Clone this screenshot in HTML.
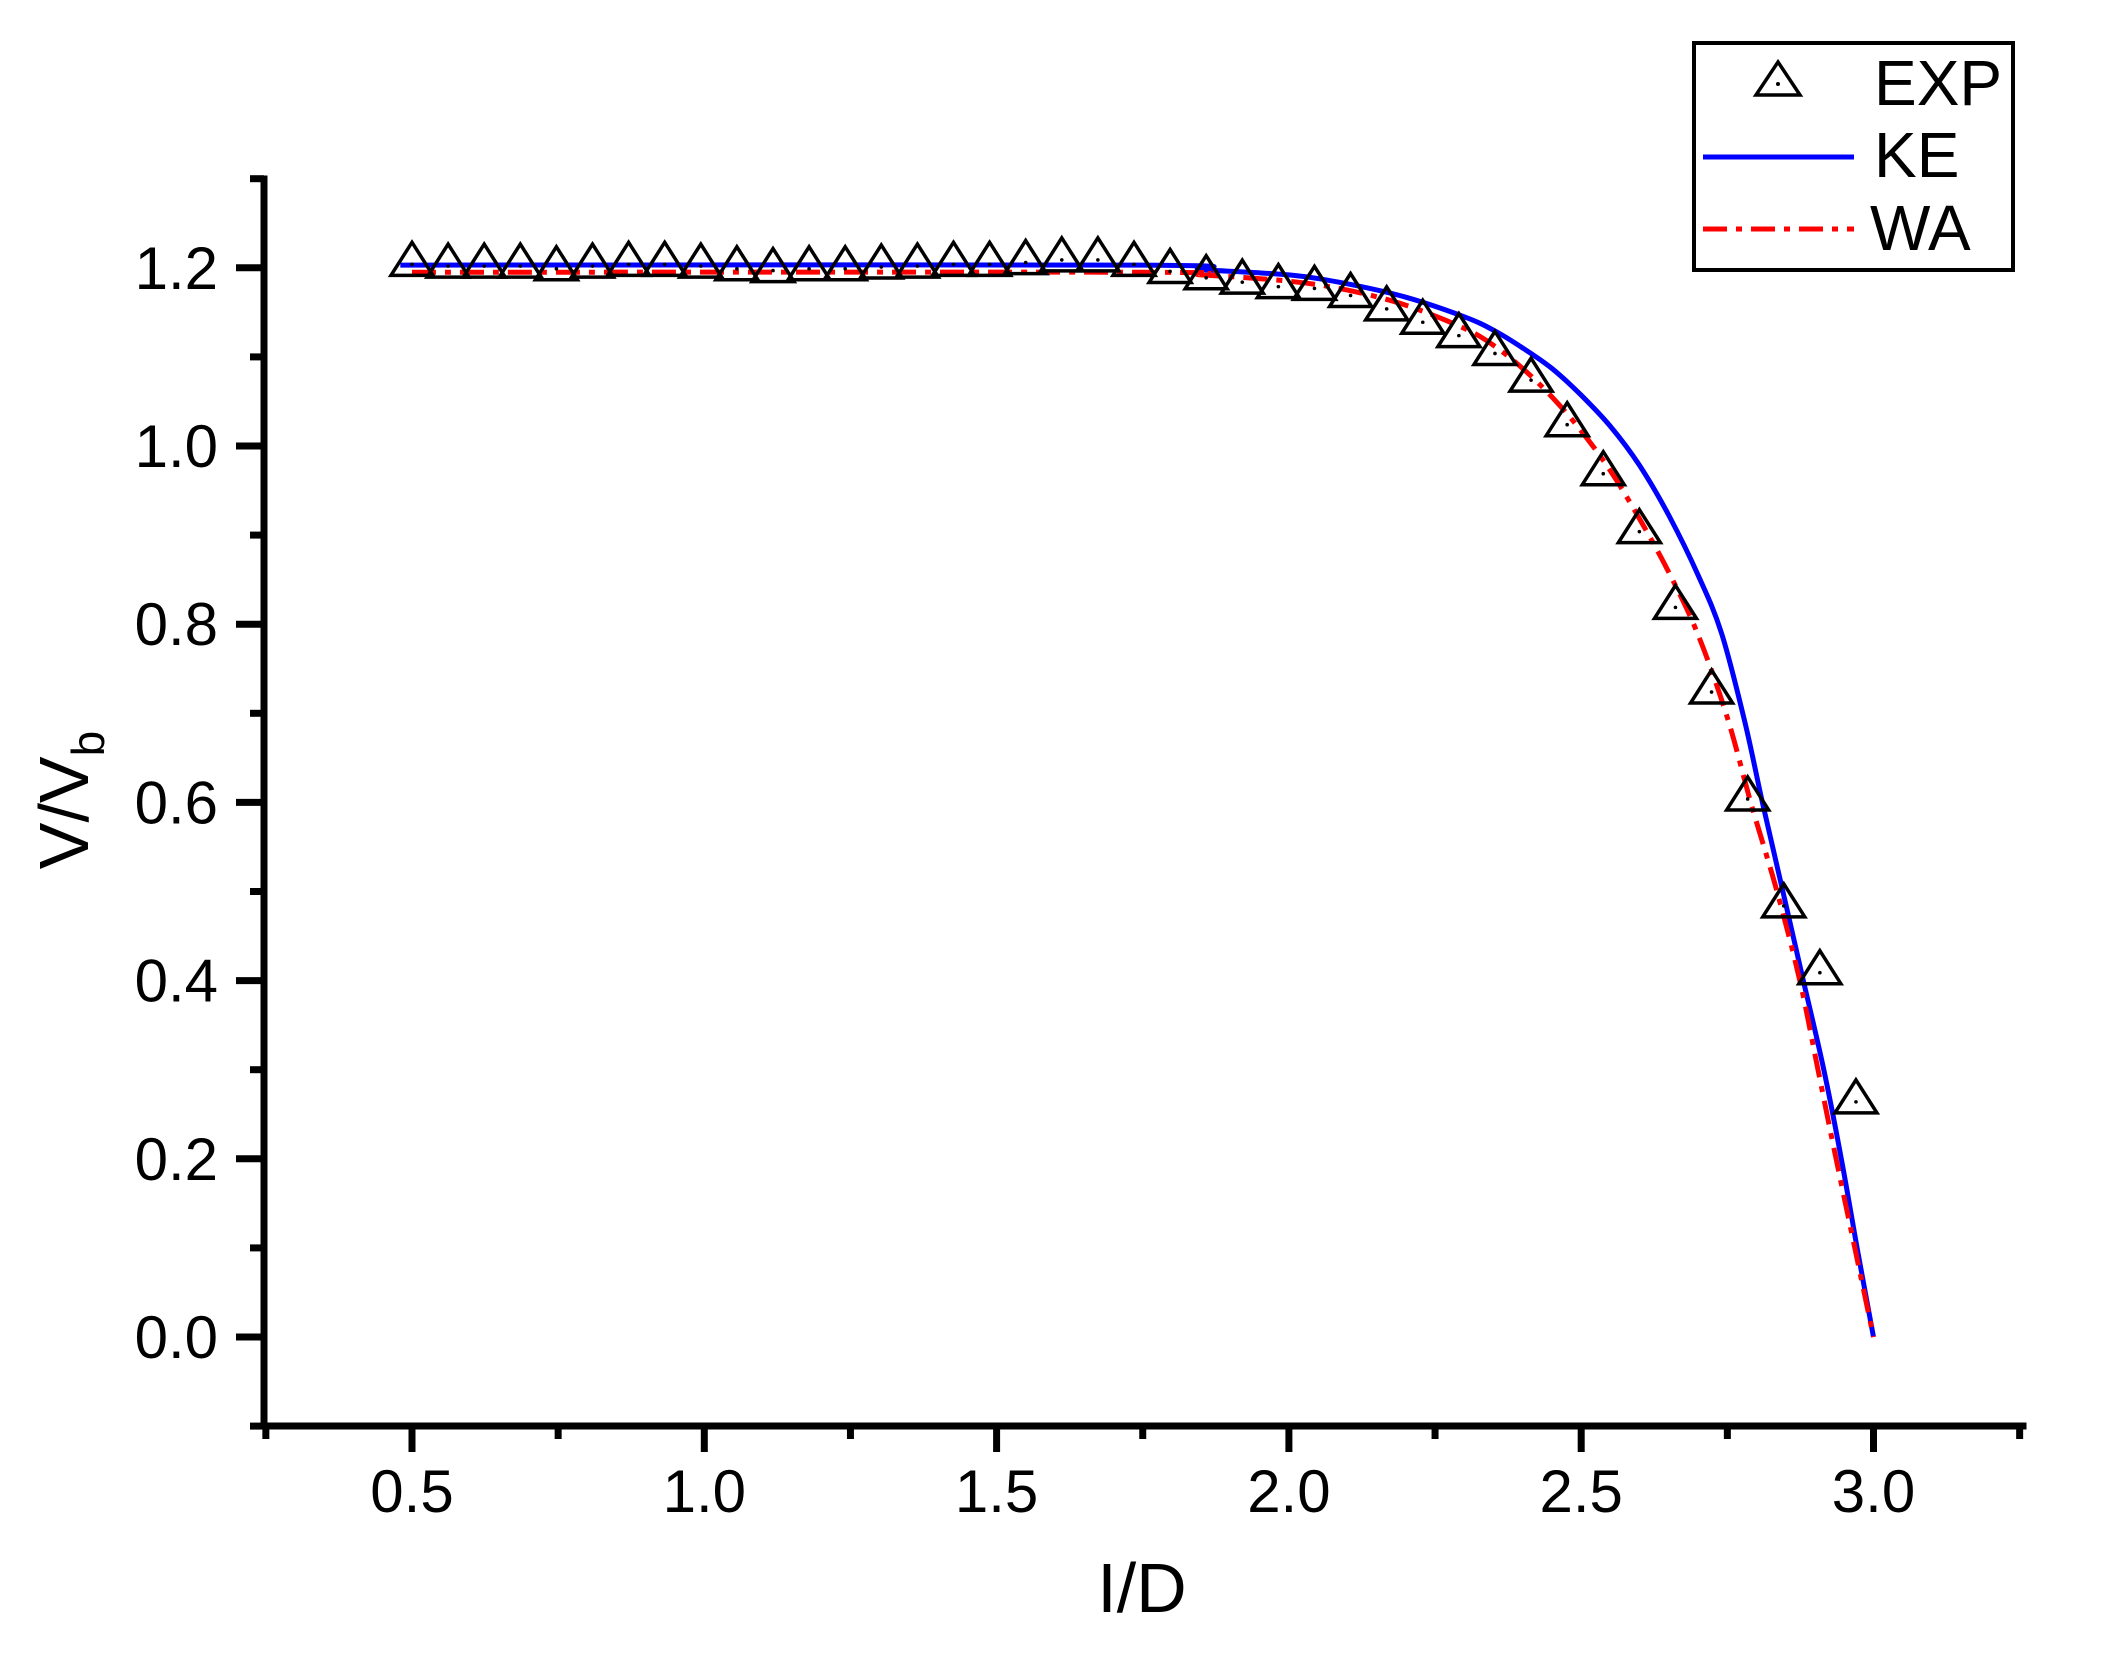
<!DOCTYPE html>
<html><head><meta charset="utf-8"><style>
html,body{margin:0;padding:0;background:#fff;}
svg{display:block;font-family:"Liberation Sans",Arial,sans-serif;}
</style></head><body>
<svg id="s" width="2103" height="1656" viewBox="0 0 2103 1656" xmlns="http://www.w3.org/2000/svg">
<rect width="2103" height="1656" fill="#fff"/>
<g id="axes" stroke="#000" stroke-width="7" fill="none"></g>
<g id="labels" font-size="60" fill="#000"></g>
<path id="ke" fill="none" stroke="#0000ff" stroke-width="5"/>
<path id="wa" fill="none" stroke="#ff0000" stroke-width="5" stroke-dasharray="24,9,6,9"/>
<g id="exp" fill="none" stroke="#000" stroke-width="3.5"></g>
<text x="1142" y="1612" font-size="70" text-anchor="middle">I/D</text>
<text transform="translate(88,800) rotate(-90)" font-size="70" text-anchor="middle">V/V<tspan font-size="46" dy="16">b</tspan></text>
<rect x="1694" y="43" width="319" height="227" fill="none" stroke="#000" stroke-width="4"/>
<polygon points="1778,62 1800,95 1756,95" fill="none" stroke="#000" stroke-width="3.5"/>
<circle cx="1778" cy="84" r="2" fill="#000"/>
<line x1="1703" y1="157" x2="1854" y2="157" stroke="#0000ff" stroke-width="5"/>
<line x1="1703" y1="229" x2="1854" y2="229" stroke="#ff0000" stroke-width="5" stroke-dasharray="24,9,6,9"/>
<text x="1874" y="105" font-size="64">EXP</text>
<text x="1874" y="177" font-size="64">KE</text>
<text x="1870" y="250" font-size="64">WA</text>
</svg>
<script>
var X=function(v){return 119.7+584.6*v;},Y=function(v){return 1337-891*v;};
var ns="http://www.w3.org/2000/svg";
function el(p,t,a,txt){var e=document.createElementNS(ns,t);for(var k in a)e.setAttribute(k,a[k]);if(txt!==undefined)e.textContent=txt;p.appendChild(e);return e;}
var ax=document.getElementById('axes'),lb=document.getElementById('labels');
el(ax,'path',{d:'M264,179 L264,1426 L2023,1426','stroke-linecap':'square'});
for(var i=-1;i<=13;i++){var v=i/10,y=Y(v);var maj=(i%2==0);
 el(ax,'line',{x1:264,y1:y,x2:maj?236:250,y2:y});
 if(maj&&i>=0)el(lb,'text',{x:218,y:y+21,'text-anchor':'end'},v.toFixed(1));}
for(var j=0;j<=12;j++){var v=0.25+j*0.25,x=X(v);var maj=(j%2==1);
 el(ax,'line',{x1:x,y1:1426,x2:x,y2:maj?1452:1439});
 if(maj)el(lb,'text',{x:x,y:1512,'text-anchor':'middle'},v.toFixed(1));}
function smooth(a){var p=a.map(function(q){return [X(q[0]),Y(q[1])];});var d='M'+p[0][0]+','+p[0][1];
 for(var i=0;i<p.length-1;i++){var p0=p[i-1]||p[i],p1=p[i],p2=p[i+1],p3=p[i+2]||p2;
  var c1=[p1[0]+(p2[0]-p0[0])/6,p1[1]+(p2[1]-p0[1])/6],c2=[p2[0]-(p3[0]-p1[0])/6,p2[1]-(p3[1]-p1[1])/6];
  d+=' C'+c1[0].toFixed(1)+','+c1[1].toFixed(1)+' '+c2[0].toFixed(1)+','+c2[1].toFixed(1)+' '+p2[0].toFixed(1)+','+p2[1].toFixed(1);}
 return d;}
document.getElementById('ke').setAttribute('d',smooth([[0.48,1.203],[1.75,1.203],[1.85,1.198],[2.0,1.192],[2.1,1.182],[2.2,1.167],[2.3,1.145],[2.35,1.13],[2.4,1.11],[2.45,1.087],[2.5,1.057],[2.55,1.022],[2.6,0.978],[2.65,0.922],[2.7,0.855],[2.74,0.79],[2.78,0.69],[2.81,0.6],[2.845,0.5],[2.88,0.4],[2.915,0.3],[2.945,0.2],[2.972,0.1],[3.0,0.0]]));
document.getElementById('wa').setAttribute('d',smooth([[0.5,1.195],[1.75,1.195],[1.85,1.192],[2.0,1.185],[2.1,1.175],[2.2,1.158],[2.3,1.132],[2.35,1.113],[2.4,1.087],[2.45,1.055],[2.5,1.017],[2.55,0.972],[2.6,0.918],[2.65,0.858],[2.70,0.788],[2.75,0.695],[2.79,0.6],[2.835,0.5],[2.874,0.4],[2.905,0.3],[2.936,0.2],[2.968,0.1],[3.0,0.0]]));
var ys=[1.205,1.203,1.203,1.203,1.2,1.203,1.205,1.205,1.203,1.2,1.198,1.2,1.2,1.202,1.203,1.205,1.205,1.207,1.21,1.21,1.205,1.197,1.19,1.185,1.18,1.178,1.17,1.155,1.14,1.125,1.105,1.075,1.025,0.97,0.905,0.82,0.725,0.605,0.485,0.41,0.265];
var ex=document.getElementById('exp');
ys.forEach(function(v,i){var x=X(0.5+i*0.06175),y=Y(v);
 el(ex,'polygon',{points:x+','+(y-21)+' '+(x+21)+','+(y+12)+' '+(x-21)+','+(y+12)});
 el(ex,'circle',{cx:x,cy:y+1,r:1.8,fill:'#000',stroke:'none'});});
</script>
</body></html>
